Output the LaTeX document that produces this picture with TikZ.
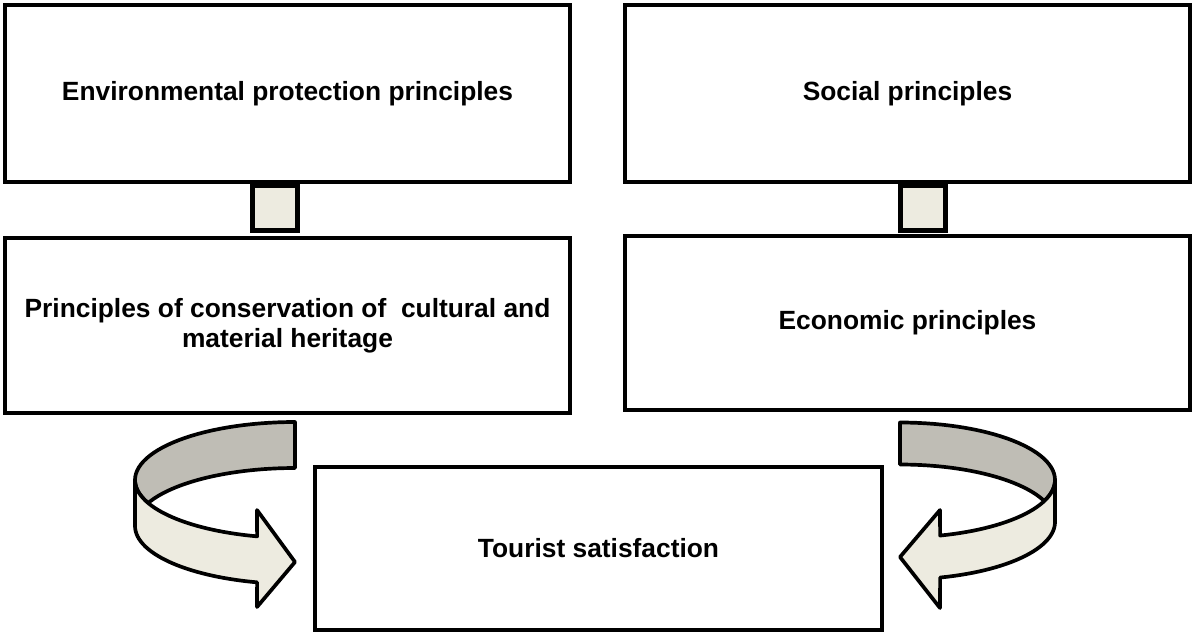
\documentclass[tikz,border=0pt]{standalone}
\usepackage{fontspec}
\setmainfont{Liberation Sans}
\usepackage{tikz}
\usetikzlibrary{shapes, positioning}
\usepackage{xcolor}

\begin{document}
\begin{tikzpicture}[x=0.02cm, y=-0.02cm,
        box/.style={draw, line width=2.4pt, fill=white, align=center, font=\fontsize{15}{16.8}\selectfont\bfseries},
        linker/.style={draw, line width=2.4pt, fill=lightband, minimum size=0.9cm, inner sep=0pt},
        turn/.style={line width=2.1pt, line join=round}]
        % Define some colors for convenience
        \definecolor{lightband}{rgb}{0.93,0.92,0.88} % front of the ribbon
        \definecolor{darkband}{rgb}{0.75,0.74,0.71} % back of the ribbon

        \useasboundingbox (0,0) rectangle (1195,635); % picture frame

        % Principle boxes
        \node[box, minimum width=11.3cm, minimum height=3.54cm] (env) at (287.5,93.5) {Environmental protection principles}; % top left
        \node[box, minimum width=11.3cm, minimum height=3.54cm] (soc) at (907.5,93.5) {Social principles}; % top right
        \node[box, minimum width=11.3cm, minimum height=3.5cm] (cons) at (287.5,325.5) {Principles of conservation of\ \ cultural and\\material heritage}; % bottom left
        \node[box, minimum width=11.3cm, minimum height=3.48cm] (eco) at (907.5,323) {Economic principles}; % bottom right
        \node[box, minimum width=11.34cm, minimum height=3.26cm] (tour) at (598.5,548.5) {Tourist satisfaction}; % goal

        % Small links between boxes
        \node[linker] (linkl) at (275,208) {}; % left link
        \node[linker] (linkr) at (923,208) {}; % right link

        % Left curved arrow
        \filldraw[turn, fill=darkband] plot[domain=90:180, samples=30, variable=\t] ({295+160*cos(\t)},{480-58*sin(\t)})
            -- plot[domain=180:203.4, samples=8, variable=\t] ({295+160*cos(\t)},{480-58*sin(\t)})
            -- plot[domain=156.6:90, samples=30, variable=\t] ({295+160*cos(\t)},{526-58*sin(\t)}) -- cycle; % back side
        \filldraw[turn, fill=lightband] plot[domain=180:256.3, samples=30, variable=\t] ({295+160*cos(\t)},{480-58*sin(\t)})
            -- (257,510) -- (295,562) -- (257,607)
            -- plot[domain=256.3:180, samples=30, variable=\t] ({295+160*cos(\t)},{526-58*sin(\t)}) -- cycle; % front side

        % Right curved arrow
        \filldraw[turn, fill=darkband] plot[domain=90:180, samples=30, variable=\t] ({900-155*cos(\t)},{480-57.5*sin(\t)})
            -- plot[domain=180:201.4, samples=8, variable=\t] ({900-155*cos(\t)},{480-57.5*sin(\t)})
            -- plot[domain=158.6:90, samples=30, variable=\t] ({900-155*cos(\t)},{522-57.5*sin(\t)}) -- cycle; % back side
        \filldraw[turn, fill=lightband] plot[domain=180:255, samples=30, variable=\t] ({900-155*cos(\t)},{480-57.5*sin(\t)})
            -- (940,510) -- (900,557) -- (940,608)
            -- plot[domain=255:180, samples=30, variable=\t] ({900-155*cos(\t)},{522-57.5*sin(\t)}) -- cycle; % front side
\end{tikzpicture}
\end{document}
